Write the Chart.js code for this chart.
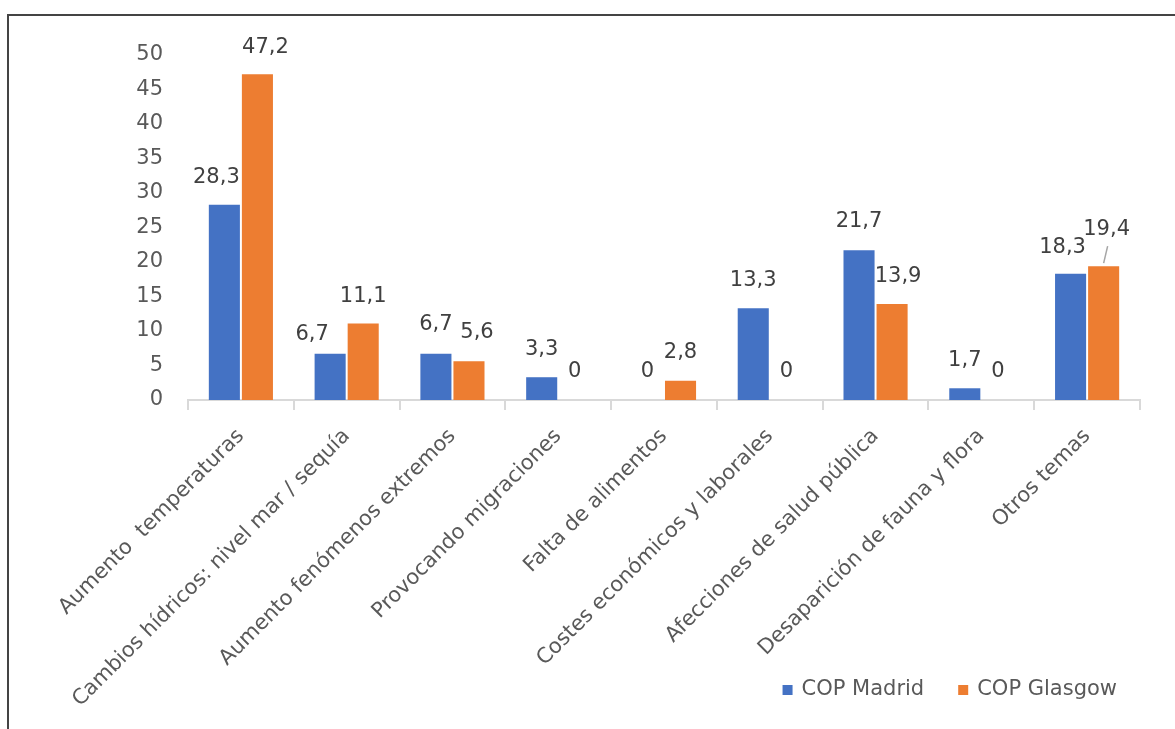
<!DOCTYPE html>
<html><head><meta charset="utf-8">
<script src="https://cdn.jsdelivr.net/npm/chart.js@4"></script>
<style>html,body{margin:0;padding:0;background:#fff;overflow:hidden}canvas{display:block}</style>
</head><body>
<canvas id="c" width="1175" height="729"></canvas>
<script>
const categories = ["Aumento  temperaturas","Cambios hídricos: nivel mar / sequía","Aumento fenómenos extremos","Provocando migraciones","Falta de alimentos","Costes económicos y laborales","Afecciones de salud pública","Desaparición de fauna y flora","Otros temas"];
const seriesNames = ["COP Madrid","COP Glasgow"];
const madrid = [28.3, 6.7, 6.7, 3.3, 0, 13.3, 21.7, 1.7, 18.3];
const glasgow = [47.2, 11.1, 5.6, 0, 2.8, 0, 13.9, 0, 19.4];
const yMin = 0, yMax = 50, yStep = 5;

const FONT = "'DejaVu Sans', sans-serif";
const FSIZE = 21;
const colors = ['#4472C4', '#ED7D31'];

// label placement tweaks (dx, dy relative to bar top) – style only
const labelOffsets = {
  '0-0': [-8, -27], '1-0': [8, -27],
  '0-1': [-18, -19], '1-1': [0, -27],
  '0-2': [0, -29], '1-2': [8, -29],
  '0-6': [0, -29], '1-6': [6, -28],
  '0-8': [-8, -26], '1-8': [3, -37]
};

const framePlugin = {
  id: 'frame',
  beforeDraw(chart) {
    const ctx = chart.ctx;
    ctx.save();
    ctx.strokeStyle = '#444';
    ctx.lineWidth = 2;
    ctx.beginPath();
    ctx.moveTo(8, 729);
    ctx.lineTo(8, 15);
    ctx.lineTo(1175, 15);
    ctx.stroke();
    ctx.restore();
  }
};

const labelPlugin = {
  id: 'valueLabels',
  afterDatasetsDraw(chart) {
    const ctx = chart.ctx;
    ctx.save();
    ctx.font = FSIZE + "px " + FONT;
    ctx.fillStyle = '#404040';
    ctx.textAlign = 'center';
    ctx.textBaseline = 'middle';
    chart.data.datasets.forEach((ds, di) => {
      const meta = chart.getDatasetMeta(di);
      meta.data.forEach((bar, i) => {
        const off = labelOffsets[di + '-' + i] || [0, -28];
        const txt = String(ds.data[i]).replace('.', ',');
        ctx.fillText(txt, bar.x + off[0], bar.y + off[1]);
        if (di === 1 && i === 8) {
          ctx.strokeStyle = '#a6a6a6';
          ctx.lineWidth = 1.5;
          ctx.beginPath();
          ctx.moveTo(bar.x, bar.y - 3);
          ctx.lineTo(bar.x + 4, bar.y - 20);
          ctx.stroke();
        }
      });
    });
    ctx.restore();
  }
};

const legendPlugin = {
  id: 'customLegend',
  afterDraw(chart) {
    const ctx = chart.ctx;
    ctx.save();
    ctx.font = FSIZE + "px " + FONT;
    ctx.textBaseline = 'middle';
    ctx.textAlign = 'left';
    const box = 10, gapText = 9, gapItem = 34;
    const items = chart.data.datasets.map(d => ({label: d.label, color: d.backgroundColor, w: ctx.measureText(d.label).width}));
    let total = 0;
    items.forEach((it, k) => { total += box + gapText + it.w + (k < items.length - 1 ? gapItem : 0); });
    let x = 1117 - total;
    const cy = 690;
    items.forEach(it => {
      ctx.fillStyle = it.color;
      ctx.fillRect(x, cy - box / 2, box, box);
      x += box + gapText;
      ctx.fillStyle = '#595959';
      ctx.fillText(it.label, x, cy);
      x += it.w + gapItem;
    });
    ctx.restore();
  }
};

new Chart(document.getElementById('c'), {
  type: 'bar',
  data: {
    labels: categories,
    datasets: [
      {label: seriesNames[0], data: madrid, backgroundColor: colors[0], barPercentage: 0.94, categoryPercentage: 0.625},
      {label: seriesNames[1], data: glasgow, backgroundColor: colors[1], barPercentage: 0.94, categoryPercentage: 0.625}
    ]
  },
  options: {
    responsive: false,
    animation: false,
    devicePixelRatio: 1,
    layout: {padding: {left: 0, top: 55, right: 35, bottom: 0}},
    plugins: {legend: {display: false}, tooltip: {enabled: false}},
    scales: {
      x: {
        grid: {offset: true, drawOnChartArea: false, drawTicks: true, tickLength: 10, color: '#d9d9d9', lineWidth: 2},
        border: {color: '#d9d9d9', width: 2},
        ticks: {minRotation: 45, maxRotation: 45, autoSkip: false, font: {family: FONT, size: FSIZE}, color: '#595959', padding: 14},
        afterFit(s) { s.height = 329; }
      },
      y: {
        min: yMin, max: yMax,
        ticks: {stepSize: yStep, font: {family: FONT, size: FSIZE}, color: '#595959', padding: 25},
        grid: {display: false, drawTicks: false},
        border: {display: false},
        afterFit(s) { s.width = 188; }
      }
    }
  },
  plugins: [framePlugin, labelPlugin, legendPlugin]
});
</script>
</body></html>
